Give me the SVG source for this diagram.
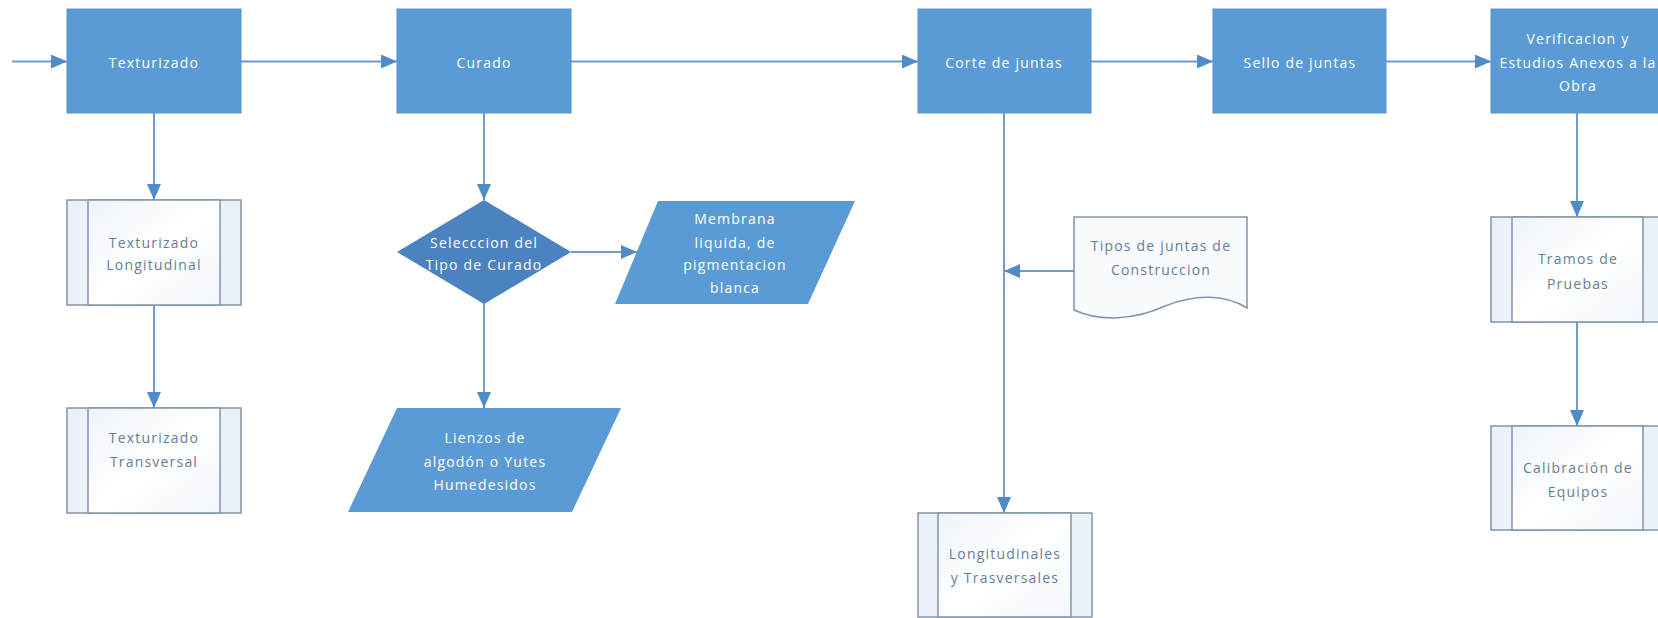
<svg xmlns="http://www.w3.org/2000/svg" width="1658" height="618" viewBox="0 0 1658 618">
  <style>
    .proc { fill: #5B9BD5; stroke: #5694CF; stroke-width: 1; }
    .dec { fill: #4A83BF; }
    .io { fill: #5B9BD5; }
    .sub { fill: url(#subFill); stroke: #8494A8; stroke-width: 1.5; }
    .band { fill: #EAF1F9; stroke: #8494A8; stroke-width: 1.5; }
    .doc { fill: #F9FBFE; stroke: #8494A8; stroke-width: 1.5; }
    .lbl { font-family: "Open Sans", "Liberation Sans", sans-serif; font-size: 14px; text-anchor: middle; dominant-baseline: central; letter-spacing: 1.2px; }
    .w { fill: #FFFFFF; }
    .g { fill: #687D96; }
    .conn { fill: none; stroke: #6F9CCB; stroke-width: 2; marker-end: url(#arrow); }
  </style>
  <defs>
    <linearGradient id="subFill" x1="0" y1="0" x2="1" y2="1">
      <stop offset="0" stop-color="#EEF4FB"/>
      <stop offset="0.5" stop-color="#FFFFFF"/>
      <stop offset="1" stop-color="#F2F7FC"/>
    </linearGradient>
    <marker id="arrow" markerUnits="userSpaceOnUse" markerWidth="18" markerHeight="16" refX="16" refY="7" orient="auto">
      <path d="M0,0 L16,7 L0,14 Z" fill="#4F8BC6"/>
    </marker>
  </defs>

  <rect width="1658" height="618" fill="#FFFFFF"/>

  <!-- connectors -->
  <g id="connectors">
    <path class="conn" d="M12,61.5 H67"/>
    <path class="conn" d="M241,61.5 H397"/>
    <path class="conn" d="M571,61.5 H918"/>
    <path class="conn" d="M1091,61.5 H1213"/>
    <path class="conn" d="M1386,61.5 H1491"/>
    <path class="conn" d="M154,113 V200"/>
    <path class="conn" d="M154,305 V408"/>
    <path class="conn" d="M484,113 V200"/>
    <path class="conn" d="M571,252 H637"/>
    <path class="conn" d="M484,303 V408"/>
    <path class="conn" d="M1004,113 V513"/>
    <path class="conn" d="M1074,271 H1004"/>
    <path class="conn" d="M1577,113 V217"/>
    <path class="conn" d="M1577,322 V426"/>
  </g>

  <!-- main process row -->
  <g id="texturizado">
    <rect class="proc" x="67" y="9" width="174" height="104"/>
    <text class="lbl w" x="154" y="62">Texturizado</text>
  </g>
  <g id="curado">
    <rect class="proc" x="397" y="9" width="174" height="104"/>
    <text class="lbl w" x="484" y="62">Curado</text>
  </g>
  <g id="corte-juntas">
    <rect class="proc" x="918" y="9" width="173" height="104"/>
    <text class="lbl w" x="1004" y="62">Corte de juntas</text>
  </g>
  <g id="sello-juntas">
    <rect class="proc" x="1213" y="9" width="173" height="104"/>
    <text class="lbl w" x="1300" y="62">Sello de juntas</text>
  </g>
  <g id="verificacion">
    <rect class="proc" x="1491" y="9" width="174" height="104"/>
    <text class="lbl w" x="1578" y="38">Verificacion y</text>
    <text class="lbl w" x="1578" y="62">Estudios Anexos a la</text>
    <text class="lbl w" x="1578" y="85">Obra</text>
  </g>

  <!-- texturizado branch -->
  <g id="tex-longitudinal">
    <rect class="band" x="67" y="200" width="174" height="105"/>
    <rect class="sub" x="88" y="200" width="132" height="105"/>
    <text class="lbl g" x="154" y="242">Texturizado</text>
    <text class="lbl g" x="154" y="264">Longitudinal</text>
  </g>
  <g id="tex-transversal">
    <rect class="band" x="67" y="408" width="174" height="105"/>
    <rect class="sub" x="88" y="408" width="132" height="105"/>
    <text class="lbl g" x="154" y="437">Texturizado</text>
    <text class="lbl g" x="154" y="461">Transversal</text>
  </g>

  <!-- curado branch -->
  <g id="tipo-curado">
    <polygon class="dec" points="484,200 571,252 484,304 397,252"/>
    <text class="lbl w" x="484" y="242">Selecccion del</text>
    <text class="lbl w" x="484" y="264">Tipo de Curado</text>
  </g>
  <g id="membrana">
    <polygon class="io" points="658,201 855,201 808,304 615,304"/>
    <text class="lbl w" x="735" y="218">Membrana</text>
    <text class="lbl w" x="735" y="242">liquida, de</text>
    <text class="lbl w" x="735" y="264">pigmentacion</text>
    <text class="lbl w" x="735" y="287">blanca</text>
  </g>
  <g id="lienzos">
    <polygon class="io" points="397,408 621,408 572,512 348,512"/>
    <text class="lbl w" x="485" y="437">Lienzos de</text>
    <text class="lbl w" x="485" y="461">algodón o Yutes</text>
    <text class="lbl w" x="485" y="484">Humedesidos</text>
  </g>

  <!-- corte branch -->
  <g id="tipos-juntas">
    <path class="doc" d="M1074,217 H1247 V308 C1225,294 1195,294 1165,306 C1135,320 1100,322 1074,310 Z"/>
    <text class="lbl g" x="1161" y="245">Tipos de juntas de</text>
    <text class="lbl g" x="1161" y="269">Construccion</text>
  </g>
  <g id="longitudinales">
    <rect class="band" x="918" y="513" width="174" height="104"/>
    <rect class="sub" x="938" y="513" width="133" height="104"/>
    <text class="lbl g" x="1005" y="553">Longitudinales</text>
    <text class="lbl g" x="1005" y="577">y Trasversales</text>
  </g>

  <!-- verificacion branch -->
  <g id="tramos">
    <rect class="band" x="1491" y="217" width="174" height="105"/>
    <rect class="sub" x="1512" y="217" width="131" height="105"/>
    <text class="lbl g" x="1578" y="258">Tramos de</text>
    <text class="lbl g" x="1578" y="283">Pruebas</text>
  </g>
  <g id="calibracion">
    <rect class="band" x="1491" y="426" width="174" height="104"/>
    <rect class="sub" x="1512" y="426" width="131" height="104"/>
    <text class="lbl g" x="1578" y="467">Calibración de</text>
    <text class="lbl g" x="1578" y="491">Equipos</text>
  </g>
</svg>
